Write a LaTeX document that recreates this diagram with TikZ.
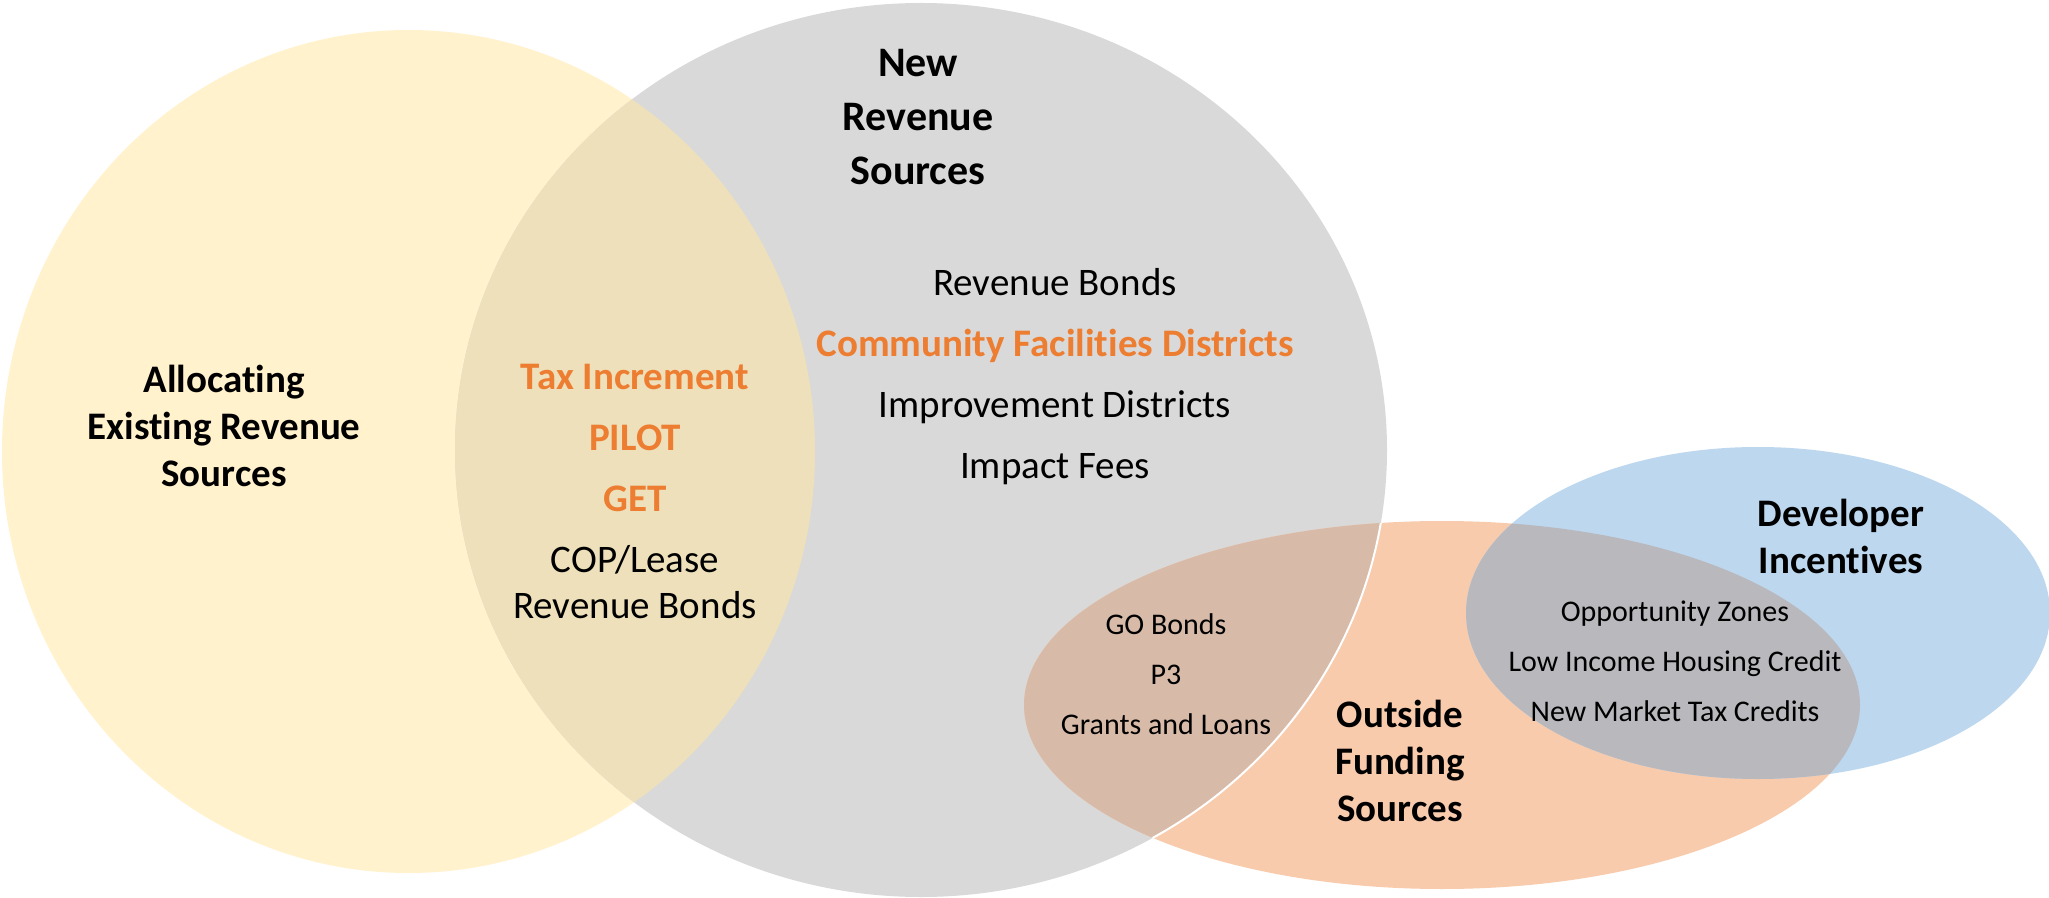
\documentclass[tikz,border=0pt]{standalone}
\usepackage{fontspec}
\setmainfont{Carlito}[Ligatures={NoCommon}]

% region colours
\definecolor{yellowfill}{HTML}{FFF2CC}
\definecolor{grayfill}{HTML}{D9D9D9}
\definecolor{yellowgray}{HTML}{EDE0BB}
\definecolor{orangefill}{HTML}{F8CBAD}
\definecolor{orangegray}{HTML}{D7BBA8}
\definecolor{bluefill}{HTML}{BDD7EE}
\definecolor{orangeblue}{HTML}{B9B8BD}
\definecolor{accent}{HTML}{ED7D31}

% centred stack of lines whose baseline is the first line
\newcommand\vennlines[1]{\begin{tabular}[t]{@{}c@{}}#1\end{tabular}}

% the four sets
\def\yellowset{(408.5,451.5) ellipse [x radius=203.25pt, y radius=210.75pt]}
\def\grayset{(921,450) ellipse [x radius=233pt, y radius=223.5pt]}
\def\orangeset{(1442,705) ellipse [x radius=209pt, y radius=92pt]}
\def\blueset{(1758,613) ellipse [x radius=146pt, y radius=83pt]}

\tikzset{
  lbl/.style={anchor=base, inner sep=0pt, text=black},
  headA/.style={lbl, font=\bfseries\fontsize{21}{27}\selectfont},
  headB/.style={lbl, font=\bfseries\fontsize{19.5}{23.5}\selectfont},
  itemL/.style={lbl, font=\fontsize{19.5}{23}\selectfont},
  itemS/.style={lbl, font=\fontsize{15}{25}\selectfont},
}

\begin{document}
\begin{tikzpicture}[x=0.5pt,y=-0.5pt]
\useasboundingbox (0,0) rectangle (2049,898);
\fill[white] (0,0) rectangle (2049,898);

% base fills
\fill[yellowfill] \yellowset;
\fill[grayfill] \grayset;
\begin{scope}
  \clip \grayset;
  \fill[yellowgray] \yellowset;
\end{scope}
\fill[orangefill] \orangeset;
\begin{scope}
  \clip \orangeset;
  \fill[orangegray] \grayset;
  \draw[white, line width=1pt] \grayset;
\end{scope}
\fill[bluefill] \blueset;
\begin{scope}
  \clip \orangeset;
  \fill[orangeblue] \blueset;
\end{scope}

% set titles
\node[headA] (newrev) at (918,77) {\vennlines{New\\Revenue\\Sources}};
\node[headB] (alloc) at (224,393) {\vennlines{Allocating\\Existing Revenue\\Sources}};
\node[headB] (dev) at (1841,526) {\vennlines{Developer\\Incentives}};
\node[headB] (outside) at (1400,727) {\vennlines{Outside\\Funding\\Sources}};

% shared between existing and new revenue
\node[itemL] (shared) at (635,389) {\vennlines{%
  \bfseries\color{accent}Tax Increment\\[7.5pt]
  \bfseries\color{accent}PILOT\\[7.5pt]
  \bfseries\color{accent}GET\\[7.5pt]
  COP/Lease\\
  Revenue Bonds}};

% new revenue sources
\node[itemL] (newitems) at (1055,296) {\vennlines{%
  Revenue Bonds\\[7.5pt]
  \bfseries\color{accent}Community Facilities Districts\\[7.5pt]
  Improvement Districts\\[7.5pt]
  Impact Fees}};

% new revenue and outside funding
\node[itemS] (outitems) at (1166,634) {\vennlines{GO Bonds\\P3\\Grants and Loans}};

% outside funding and developer incentives
\node[itemS] (devitems) at (1675,621) {\vennlines{Opportunity Zones\\Low Income Housing Credit\\New Market Tax Credits}};
\end{tikzpicture}
\end{document}
